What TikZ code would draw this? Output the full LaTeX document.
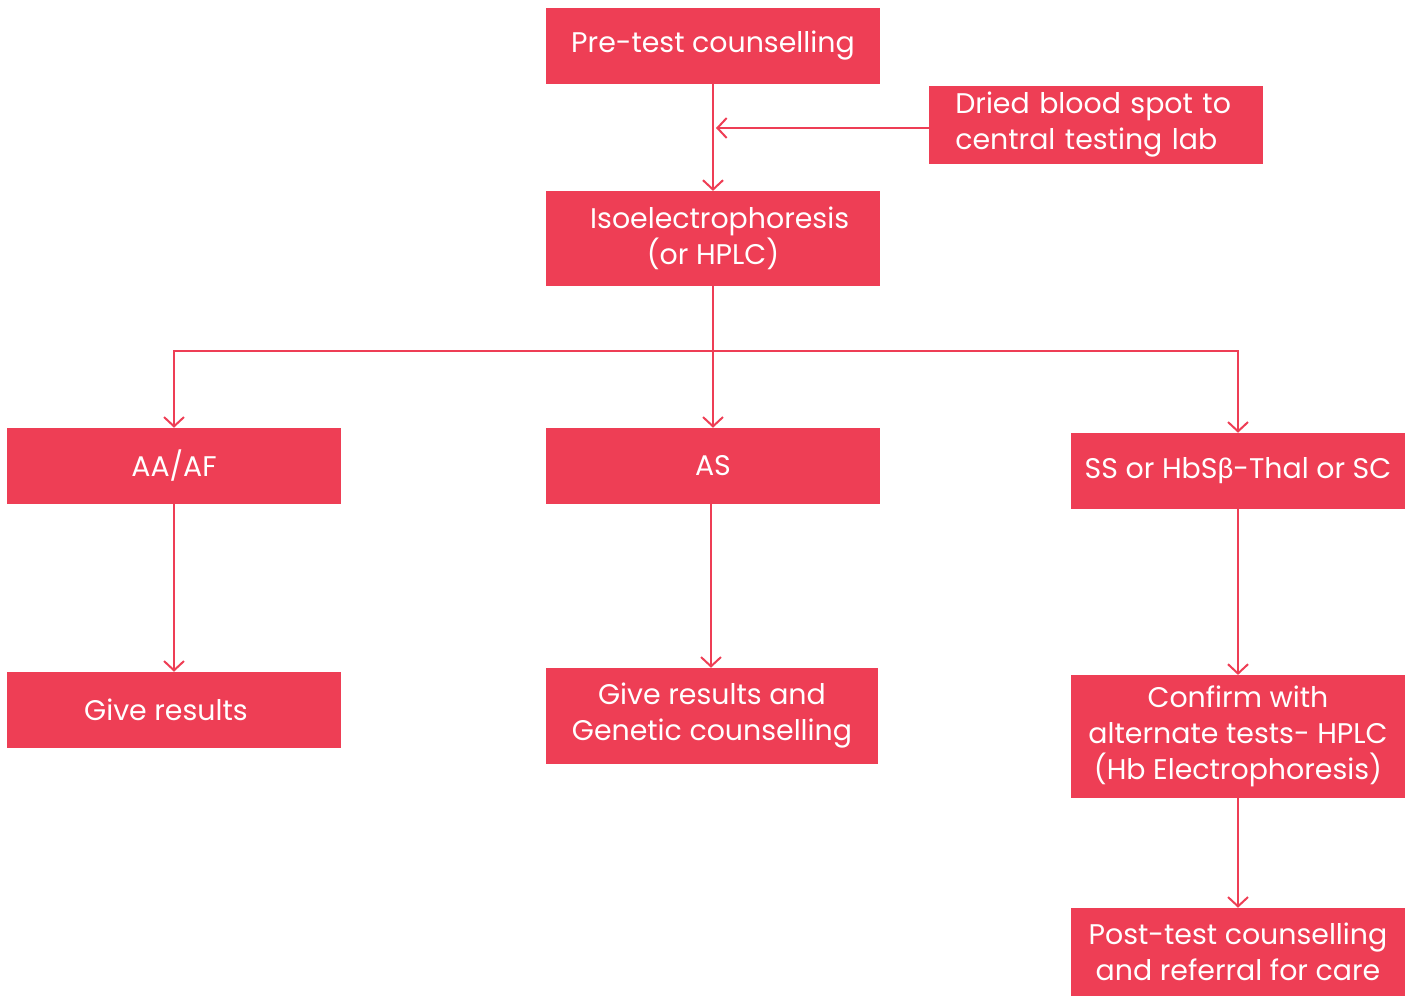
\documentclass[tikz,border=0pt]{standalone}
\usepackage{fontspec}
\setmainfont{Poppins}
\newfontfamily\grk{Lato}
\usetikzlibrary{arrows.meta}
\definecolor{boxred}{HTML}{EE3E55}
\begin{document}
\begin{tikzpicture}[x=0.75pt,y=-0.75pt,
  box/.style={fill=boxred,text=white,draw=none,inner sep=0pt,align=center,font=\fontsize{21.3}{27}\selectfont},
  arr/.style={draw=boxred,line width=1.5pt,-{Straight Barb[length=7pt,width=15pt,line width=1.5pt]}},
  ln/.style={draw=boxred,line width=1.5pt}]
\useasboundingbox (0,0) rectangle (1415,997);
\node[box,minimum width=250.5pt,minimum height=57pt] (pre) at (713,46) {Pre-test counselling};
\node[box,minimum width=250.5pt,minimum height=58.5pt,align=left,text width=211pt] (dbs) at (1096,125) {Dried blood spot to\\central testing lab};
\node[box,minimum width=250.5pt,minimum height=71pt] (iso) at (713,238.5) {\hspace{10pt}Isoelectrophoresis\\(or HPLC)};
\node[box,minimum width=250.5pt,minimum height=57pt] (aa) at (174,466) {AA/AF};
\node[box,minimum width=250.5pt,minimum height=57pt] (as) at (713,466) {AS};
\node[box,minimum width=250.5pt,minimum height=57pt] (ss) at (1238,471) {SS or HbS{\grk β}-Thal or SC};
\node[box,minimum width=250.5pt,minimum height=57pt] (gr) at (174,710) {\hspace{-12pt}Give results};
\node[box,minimum width=249pt,minimum height=72pt] (grg) at (712,716) {Give results and\\Genetic counselling};
\node[box,minimum width=251pt,minimum height=92pt] (conf) at (1238,736.5) {Confirm with\\alternate tests- HPLC\\(Hb Electrophoresis)};
\node[box,minimum width=251pt,minimum height=66pt] (post) at (1238,952) {Post-test counselling\\and referral for care};
\coordinate (j) at (713,128);
\coordinate (hub) at (713,351);
\draw[arr] (pre.south) -- (iso.north);
\draw[arr] (dbs.west |- j) -- ([xshift=2.25pt]j);
\draw[ln] (iso.south) -- (hub);
\draw[arr] (hub) -| (aa.north);
\draw[arr] (hub) -| (ss.north);
\draw[arr] (hub) -- (as.north);
\draw[arr] (aa.south) -- (gr.north -| aa.south);
\draw[arr] ([xshift=-1.5pt]as.south) -- ([xshift=-1.5pt]as.south |- grg.north);
\draw[arr] (ss.south) -- (ss.south |- conf.north);
\draw[arr] (conf.south) -- (post.north);
\end{tikzpicture}
\end{document}
